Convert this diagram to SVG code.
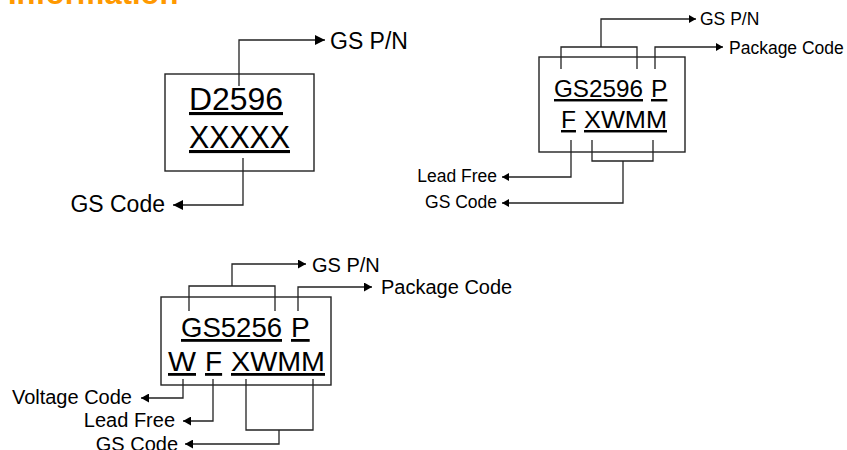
<svg xmlns="http://www.w3.org/2000/svg" width="847" height="450" viewBox="0 0 847 450">
<style>
text{font-family:"Liberation Sans",Arial,sans-serif;fill:#000}
.title{font-weight:bold;fill:#FF9900;font-size:31px}
.box{fill:#fff;stroke:#222;stroke-width:1.4}
.u{text-decoration:underline}
.c{fill:none;stroke:#222;stroke-width:1.3}
.l1{font-size:23px}
.l2{font-size:17.5px}
.l3{font-size:20px}
</style>
<defs>
<marker id="aL" markerUnits="userSpaceOnUse" markerWidth="10" markerHeight="10" refX="10" refY="5" orient="auto"><path d="M0,0L10,5L0,10z" fill="#000"/></marker>
<marker id="aS" markerUnits="userSpaceOnUse" markerWidth="7" markerHeight="8" refX="7" refY="4" orient="auto"><path d="M0,0L7,4L0,8z" fill="#000"/></marker>
<marker id="aM" markerUnits="userSpaceOnUse" markerWidth="8" markerHeight="9" refX="8" refY="4.5" orient="auto"><path d="M0,0L8,4.5L0,9z" fill="#000"/></marker>
</defs>
<text class="title" x="8" y="4">Information</text>

<g id="marking1">
<rect class="box" x="165" y="74" width="149" height="97"/>
<text class="u" x="189" y="110" font-size="31" textLength="94" lengthAdjust="spacingAndGlyphs">D2596</text>
<text class="u" x="189" y="148" font-size="31" textLength="101" lengthAdjust="spacingAndGlyphs">XXXXX</text>
</g>
<g id="marking2">
<rect class="box" x="539" y="57" width="146" height="95"/>
<text class="u" x="554" y="97" font-size="24.5" textLength="89" lengthAdjust="spacingAndGlyphs">GS2596</text>
<text class="u" x="651" y="97" font-size="24.5">P</text>
<text class="u" x="561" y="128" font-size="24.5">F</text>
<text class="u" x="584" y="128" font-size="24.5" textLength="83" lengthAdjust="spacingAndGlyphs">XWMM</text>
</g>
<g id="marking3">
<rect class="box" x="161" y="297" width="170" height="88"/>
<text class="u" x="181" y="337" font-size="28" textLength="101" lengthAdjust="spacingAndGlyphs">GS5256</text>
<text class="u" x="291" y="337" font-size="28">P</text>
<text class="u" x="168" y="371" font-size="28" textLength="28" lengthAdjust="spacingAndGlyphs">W</text>
<text class="u" x="205" y="371" font-size="28">F</text>
<text class="u" x="231" y="371" font-size="28" textLength="94" lengthAdjust="spacingAndGlyphs">XWMM</text>
</g>

<g id="labels1">
<text class="l1" x="330" y="49">GS P/N</text>
<text class="l1" x="165" y="212" text-anchor="end">GS Code</text>
</g>
<g id="labels2">
<text class="l2" x="700" y="25">GS P/N</text>
<text class="l2" x="729" y="54">Package Code</text>
<text class="l2" x="497" y="182" text-anchor="end">Lead Free</text>
<text class="l2" x="497" y="208" text-anchor="end">GS Code</text>
</g>
<g id="labels3">
<text class="l3" x="312" y="272">GS P/N</text>
<text class="l3" x="381" y="294">Package Code</text>
<text class="l3" x="132" y="404" text-anchor="end">Voltage Code</text>
<text class="l3" x="175" y="427" text-anchor="end">Lead Free</text>
<text class="l3" x="178" y="451" text-anchor="end">GS Code</text>
</g>

<g id="connectors">
<path class="c" d="M239,86V40H325" marker-end="url(#aL)"/>
<path class="c" d="M243,158V205H173" marker-end="url(#aL)"/>

<path class="c" d="M561,69V47H637V69"/>
<path class="c" d="M601,47V19H696" marker-end="url(#aS)"/>
<path class="c" d="M655,69V47H723" marker-end="url(#aS)"/>
<path class="c" d="M571,140V177H502" marker-end="url(#aS)"/>
<path class="c" d="M592,140V161H653V140"/>
<path class="c" d="M623,161V203H502" marker-end="url(#aS)"/>

<path class="c" d="M189,311V286H275V311"/>
<path class="c" d="M232,286V264H306" marker-end="url(#aM)"/>
<path class="c" d="M298,311V287H372" marker-end="url(#aM)"/>
<path class="c" d="M183,379V398H141" marker-end="url(#aM)"/>
<path class="c" d="M213,379V421H183" marker-end="url(#aM)"/>
<path class="c" d="M246,379V430H313V379"/>
<path class="c" d="M279,430V444H185" marker-end="url(#aM)"/>
</g>
</svg>
